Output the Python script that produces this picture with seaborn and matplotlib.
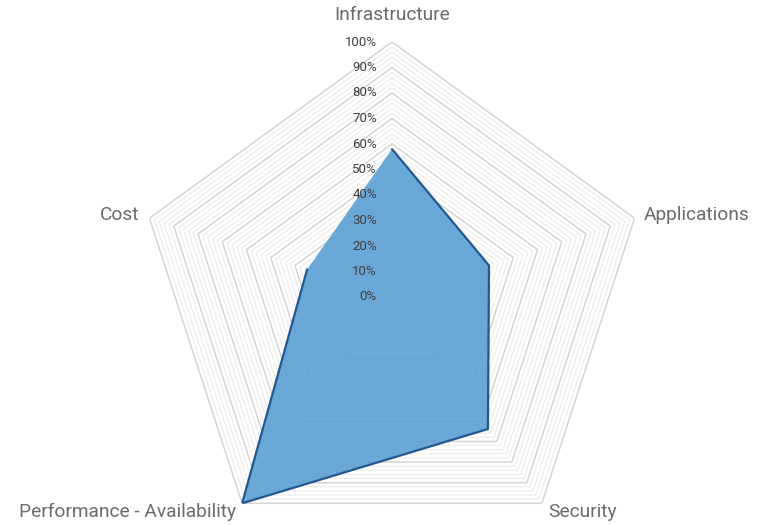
import numpy as np
import pandas as pd
import matplotlib
matplotlib.use('Agg')
import matplotlib.pyplot as plt
import matplotlib.transforms as mtransforms
import seaborn as sns

# Data
categories = ['Infrastructure', 'Applications', 'Security', 'Performance - Availability', 'Cost']
scores = [58, 40, 64, 100, 35]
tick_values = [0, 10, 20, 30, 40, 50, 60, 70, 80, 90, 100]
tick_labels = ['0%', '10%', '20%', '30%', '40%', '50%', '60%', '70%', '80%', '90%', '100%']

sns.set_theme(style='white')
plt.rcParams['font.family'] = ['Roboto', 'DejaVu Sans']

n = len(categories)
angles = np.linspace(0, 2 * np.pi, n, endpoint=False)
closed_angles = np.append(angles, angles[0])

df = pd.DataFrame({'theta': closed_angles,
                   'r': np.append(scores, scores[0]) / 100.0})

fig = plt.figure(figsize=(7.67, 5.25), dpi=100)
ax = fig.add_axes([137 / 767, -27 / 525, 510 / 767, 510 / 525], projection='polar')
ax.set_theta_offset(np.pi / 2)
ax.set_theta_direction(-1)
ax.set_ylim(0, 1)
ax.grid(False)
ax.spines['polar'].set_visible(False)
ax.set_xticks([])
ax.set_yticks([])
ax.patch.set_alpha(0)

# pentagon gridlines: minor every 2%, major every 10%
for lvl in range(2, 101, 2):
    major = lvl % 10 == 0
    ax.plot(closed_angles, [lvl / 100] * (n + 1),
            color='#d4d4d4' if major else '#ececec',
            lw=1.1 if major else 0.8, zorder=1)

# data polygon
ax.fill(df['theta'], df['r'], color='#5a9fd4', alpha=0.9, zorder=2, lw=0)
sns.lineplot(data=df, x='theta', y='r', sort=False, color='#24578f',
             lw=1.6, ax=ax, zorder=3, legend=False)
ax.set_xlabel('')
ax.set_ylabel('')

# percent labels along the top axis
trans = mtransforms.offset_copy(ax.transData, fig=fig, x=-15, y=0, units='dots')
for v, lab in zip(tick_values, tick_labels):
    ax.text(0, v / 100, lab, transform=trans, ha='right', va='center',
            fontsize=9.5, color='#404040', zorder=4)

# category labels
for ang, cat in zip(angles, categories):
    if np.isclose(ang, 0):
        ax.text(ang, 1.105, cat, ha='center', va='center', fontsize=13.8, color='#6b6b6b')
    else:
        ha = 'left' if np.sin(ang) > 0 else 'right'
        ax.text(ang, 1.04, cat, ha=ha, va='center', fontsize=13.8, color='#6b6b6b')

fig.savefig('out.png', dpi=100)
